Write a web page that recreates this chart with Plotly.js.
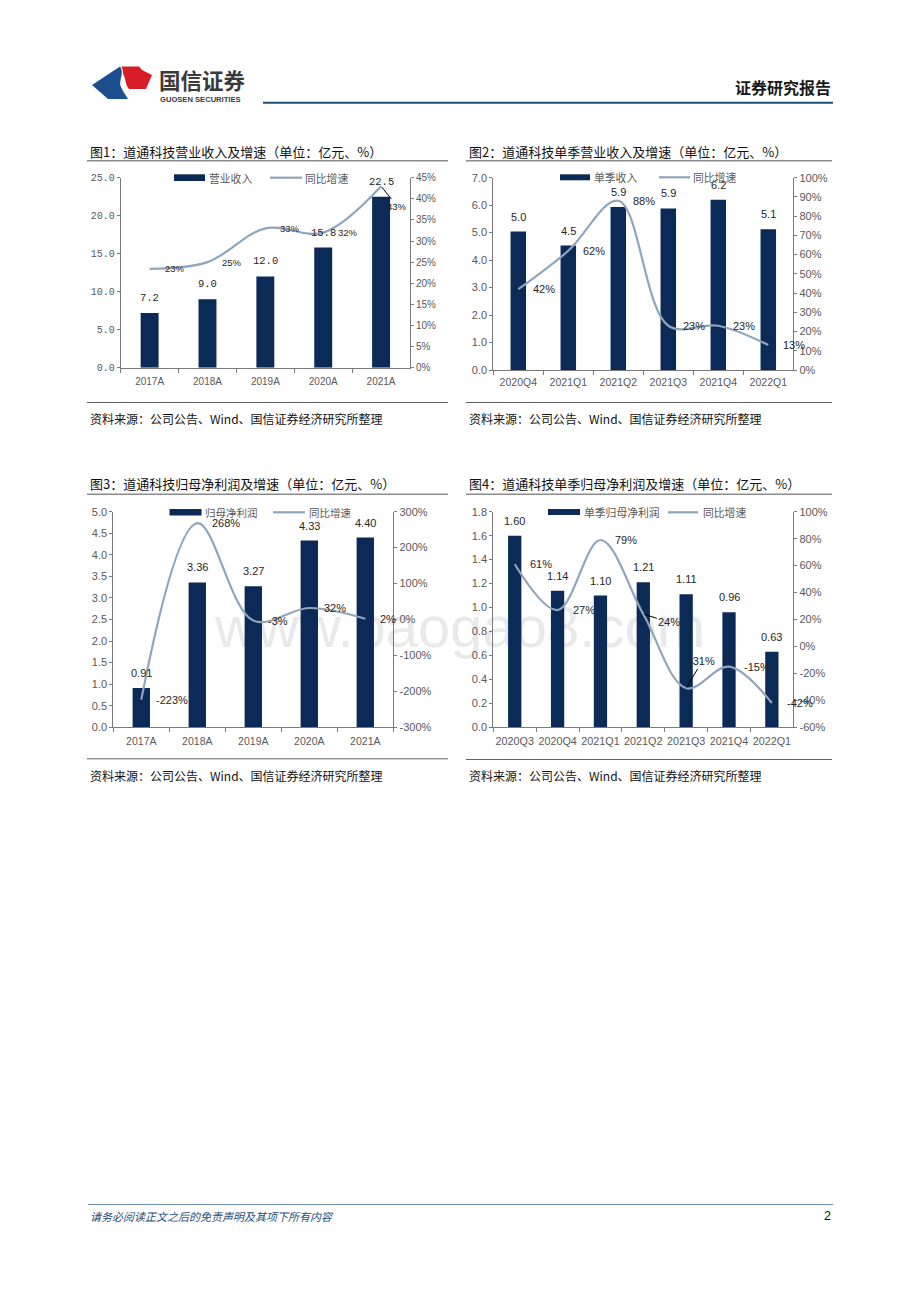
<!DOCTYPE html>
<html><head><meta charset="utf-8">
<script src="https://cdn.plot.ly/plotly-3.0.1.min.js"></script>
<style>
html,body{margin:0;padding:0;background:#fff;}
#wrap{position:relative;width:920px;height:1302px;overflow:hidden;background:#fff;}
#bg{position:absolute;left:0;top:0;}
#chart{position:absolute;left:0;top:0;width:920px;height:1302px;}
</style></head><body>
<div id="wrap">
<svg id="bg" width="920" height="1302" xmlns="http://www.w3.org/2000/svg">
  <text x="460" y="647" text-anchor="middle" font-family="Liberation Sans, Arial, sans-serif" font-size="58" fill="#e9e9e9">www.baogao8.com</text>
  <path d="M92,85 L120,66.5 C125,73 118,81 121,87 C123,92 126,95 128,99 L108,99 Z" fill="#1d4f8e"/>
  <path d="M121,66.5 L139,66.5 L142,70 L152,75 L146,89 L129,89 C125,84 126,80 124,76 C122,72 124,70 121,66.5 Z" fill="#d71e28"/>
  <text x="159" y="89" font-family="Noto Sans CJK SC, sans-serif" font-weight="bold" font-size="21.5" fill="#3a3a3a">国信证券</text>
  <text x="160" y="101.5" font-family="Liberation Sans, Arial, sans-serif" font-weight="bold" font-size="7.6" fill="#3a3a3a">GUOSEN SECURITIES</text>
</svg>
<div id="chart"></div>
</div>
<script>
// ---------- data ----------
const c1Cats = ['2017A','2018A','2019A','2020A','2021A'];
const c1Rev  = [7.2, 9.0, 12.0, 15.8, 22.5];
const c1Yoy  = [0.234, 0.25, 0.33, 0.32, 0.43];

const c2Cats = ['2020Q4','2021Q1','2021Q2','2021Q3','2021Q4','2022Q1'];
const c2Rev  = [5.04, 4.53, 5.93, 5.88, 6.20, 5.12];
const c2Yoy  = [0.42, 0.62, 0.88, 0.23, 0.23, 0.13];

const c3Cats = ['2017A','2018A','2019A','2020A','2021A'];
const c3Np   = [0.91, 3.36, 3.27, 4.33, 4.40];
const c3Yoy  = [-2.23, 2.68, -0.03, 0.32, 0.02];

const c4Cats = ['2020Q3','2020Q4','2021Q1','2021Q2','2021Q3','2021Q4','2022Q1'];
const c4Np   = [1.60, 1.14, 1.10, 1.21, 1.11, 0.96, 0.63];
const c4Yoy  = [0.61, 0.27, 0.79, 0.24, -0.31, -0.15, -0.42];

// tick labels
const t1Vals = [0,0.05,0.10,0.15,0.20,0.25,0.30,0.35,0.40,0.45];
const t1Text = ['0%','5%','10%','15%','20%','25%','30%','35%','40%','45%'];
const t2Vals = [0,0.1,0.2,0.3,0.4,0.5,0.6,0.7,0.8,0.9,1.0];
const t2Text = ['0%','10%','20%','30%','40%','50%','60%','70%','80%','90%','100%'];
const t3Vals = [-3,-2,-1,0,1,2,3];
const t3Text = ['-300%','-200%','-100%','0%','100%','200%','300%'];
const t4Vals = [-0.6,-0.4,-0.2,0,0.2,0.4,0.6,0.8,1.0];
const t4Text = ['-60%','-40%','-20%','0%','20%','40%','60%','80%','100%'];

const titles = ['图1：道通科技营业收入及增速（单位：亿元、%）',
                '图2：道通科技单季营业收入及增速（单位：亿元、%）',
                '图3：道通科技归母净利润及增速（单位：亿元、%）',
                '图4：道通科技单季归母净利润及增速（单位：亿元、%）'];
const legendBar = ['营业收入','单季收入','归母净利润','单季归母净利润'];
const legendLine = '同比增速';
const sourceText = '资料来源：公司公告、Wind、国信证券经济研究所整理';

// ---------- styles ----------
const W=920, H=1302;
const px = x => x/W, py = y => 1 - y/H;
const NAVY='#0b2a56', LINE='#8fa5bc', AX='#7a7a7a', TK='#595959', LB='#262626';
const SANS='"Liberation Sans", Arial, sans-serif';
const MONO='"Liberation Mono", "DejaVu Sans Mono", monospace';
const CJK='"Noto Sans CJK SC", sans-serif';

function xa(l, r, anchor, fs, n, standoff){
  return {domain:[px(l),px(r)], anchor:anchor, type:'category', range:[-0.5, n-0.5], autorange:false,
    showline:true, linecolor:AX, linewidth:1, tickangle:0, ticklabelstandoff:standoff,
    ticks:'outside', tickson:'boundaries', ticklen:4, tickcolor:AX, tickwidth:1,
    tickfont:{family:SANS,size:fs,color:TK}, showgrid:false, zeroline:false, fixedrange:true};
}
function yl(t, b, anchor, range, dtick, fs, fam){
  return {domain:[py(b),py(t)], anchor:anchor, range:range, autorange:false, dtick:dtick, tick0:0, tickformat:'.1f',
    showline:true, linecolor:AX, linewidth:1, ticks:'outside', ticklen:3, tickcolor:AX,
    tickfont:{family:fam||SANS,size:fs,color:TK}, showgrid:false, zeroline:false, fixedrange:true};
}
function yr(over, anchor, range, tv, tt, fs){
  return {overlaying:over, anchor:anchor, side:'right', range:range, autorange:false, tickmode:'array', tickvals:tv, ticktext:tt,
    showline:true, linecolor:AX, linewidth:1, ticks:'outside', ticklen:3, tickcolor:AX,
    tickfont:{family:SANS,size:fs,color:TK}, showgrid:false, zeroline:false, fixedrange:true};
}

function barTrace(x,y,xa_,ya_){ return {type:'bar', x:x, y:y, xaxis:xa_, yaxis:ya_, width:0.31,
  marker:{color:NAVY, line:{width:0}}, hoverinfo:'skip'}; }
function lineTrace(x,y,xa_,ya_){ return {type:'scatter', mode:'lines', x:x, y:y, xaxis:xa_, yaxis:ya_,
  line:{color:LINE, width:2.2, shape:'spline', smoothing:1}, hoverinfo:'skip'}; }

const data = [
  barTrace(c1Cats,c1Rev,'x','y'),   lineTrace(c1Cats,c1Yoy,'x','y2'),
  barTrace(c2Cats,c2Rev,'x2','y3'), lineTrace(c2Cats,c2Yoy,'x2','y4'),
  barTrace(c3Cats,c3Np,'x3','y5'),  lineTrace(c3Cats,c3Yoy,'x3','y6'),
  barTrace(c4Cats,c4Np,'x4','y7'),  lineTrace(c4Cats,c4Yoy,'x4','y8')
];

const ann = [];
const shapes = [];
const pct = v => Math.round(v*100) + '%';

function barLabels(cats, vals, xr, yr_, dec, fam, fs){
  cats.forEach((c,i)=>ann.push({xref:xr, yref:yr_, x:c, y:vals[i], text:vals[i].toFixed(dec),
    showarrow:false, yshift:15, yanchor:'middle', font:{family:fam, size:fs, color:LB}}));
}
function pctLabels(cats, vals, xr, yr_, fs, special){
  cats.forEach((c,i)=>{
    const sp = special && special[i];
    if (sp) {
      ann.push({xref:xr, yref:yr_, x:c, y:vals[i], text:pct(vals[i]), showarrow:true, arrowhead:0,
        arrowwidth:1, arrowcolor:'#000', ax:sp[0], ay:sp[1], standoff:1,
        font:{family:SANS, size:fs, color:LB}});
    } else {
      ann.push({xref:xr, yref:yr_, x:c, y:vals[i], text:pct(vals[i]), showarrow:false,
        xanchor:'left', xshift:13, yanchor:'middle', font:{family:SANS, size:fs, color:LB}});
    }
  });
}
barLabels(c1Cats,c1Rev,'x','y',1,MONO,10.5);
pctLabels(c1Cats,c1Yoy,'x','y2',9.5,{4:[16,20]});
barLabels(c2Cats,c2Rev,'x2','y3',1,SANS,11);
pctLabels(c2Cats,c2Yoy,'x2','y4',11);
barLabels(c3Cats,c3Np,'x3','y5',2,SANS,11);
pctLabels(c3Cats,c3Yoy,'x3','y6',11);
barLabels(c4Cats,c4Np,'x4','y7',2,SANS,11);
pctLabels(c4Cats,c4Yoy,'x4','y8',11,{3:[26,8],4:[16,-27]});

function paperText(x, y, text, fs, color, xanchor, fam){
  ann.push({xref:'paper', yref:'paper', x:px(x), y:py(y), text:text, showarrow:false,
    xanchor:xanchor||'left', yanchor:'middle', font:{family:fam||CJK, size:fs, color:color}});
}
function hline(x0,x1,y,color,w){
  shapes.push({type:'line', xref:'paper', yref:'paper', x0:px(x0), x1:px(x1), y0:py(y), y1:py(y),
    line:{color:color, width:w}});
}
function legend(rx0, rx1, ry0, ry1, tx1, lx0, lx1, ly, tx2, label, fs){
  shapes.push({type:'rect', xref:'paper', yref:'paper', x0:px(rx0), x1:px(rx1), y0:py(ry1), y1:py(ry0),
    fillcolor:NAVY, line:{width:0}});
  paperText(tx1, (ry0+ry1)/2, label, fs, TK);
  shapes.push({type:'line', xref:'paper', yref:'paper', x0:px(lx0), x1:px(lx1), y0:py(ly), y1:py(ly),
    line:{color:LINE, width:2.2}});
  paperText(tx2, ly, legendLine, fs, TK);
}

// header
paperText(833, 87.5, '<b>证券研究报告</b>', 16, '#1a1a1a', 'right');
hline(263, 833, 102.8, '#1f4e79', 2);

// chart titles + rules + sources
const panels = [[87,448,151.5,160.7,402.5,418],[466,832,151.5,160.7,402.5,418],
                [87,448,483.5,494.3,758.8,775],[466,832,483.5,494.3,759.5,775]];
panels.forEach((p,i)=>{
  paperText(p[0]+1, p[2], titles[i], 13, '#111');
  hline(p[0], p[1], p[3], '#8c8c8c', 1.6);
  hline(p[0], p[1], p[4], '#505050', 0.9);
  paperText(p[0]+1, p[5], sourceText, 12, '#111');
});

// legends
legend(174,205,174.3,181, 207, 270,302,177.7, 303, legendBar[0], 10.8);
legend(560,590,174.3,180.3, 592, 659,690,177.3, 691, legendBar[1], 10.8);
legend(169.5,201.5,509,515.5, 203, 273,305,512.3, 307, legendBar[2], 10.5);
legend(548,580,509,515, 582, 668,698,512.3, 701, legendBar[3], 10.8);

// footer
hline(88, 833, 1204.5, '#6f8fb0', 1);
paperText(88, 1216, '<i>请务必阅读正文之后的免责声明及其项下所有内容</i>', 11, '#1f4e79');
paperText(833, 1216, '2', 12.5, '#111', 'right', SANS);

const layout = {
  width:W, height:H, margin:{l:0,r:0,t:0,b:0}, showlegend:false,
  paper_bgcolor:'rgba(0,0,0,0)', plot_bgcolor:'rgba(0,0,0,0)',
  xaxis:  xa(120.7, 410, 'y', 10, c1Cats.length, 4),
  yaxis:  yl(177.7, 367.7, 'x', [0,25], 5, 10, MONO),
  yaxis2: yr('y', 'x', [0,0.45], t1Vals, t1Text, 10),
  xaxis2: xa(493.3, 793.3, 'y3', 10.5, c2Cats.length, 2),
  yaxis3: yl(177.7, 370, 'x2', [0,7], 1, 11),
  yaxis4: yr('y3', 'x2', [0,1], t2Vals, t2Text, 11),
  xaxis3: xa(113.3, 393.3, 'y5', 10.5, c3Cats.length, 4),
  yaxis5: yl(511.7, 727.3, 'x3', [0,5], 0.5, 11),
  yaxis6: yr('y5', 'x3', [-3,3], t3Vals, t3Text, 11),
  xaxis4: xa(493.3, 793.3, 'y7', 10.8, c4Cats.length, 4),
  yaxis7: yl(511.7, 727.3, 'x4', [0,1.8], 0.2, 11),
  yaxis8: yr('y7', 'x4', [-0.6,1], t4Vals, t4Text, 11),
  annotations: ann, shapes: shapes
};
Plotly.newPlot('chart', data, layout, {staticPlot:true, displayModeBar:false});
</script>
</body></html>
